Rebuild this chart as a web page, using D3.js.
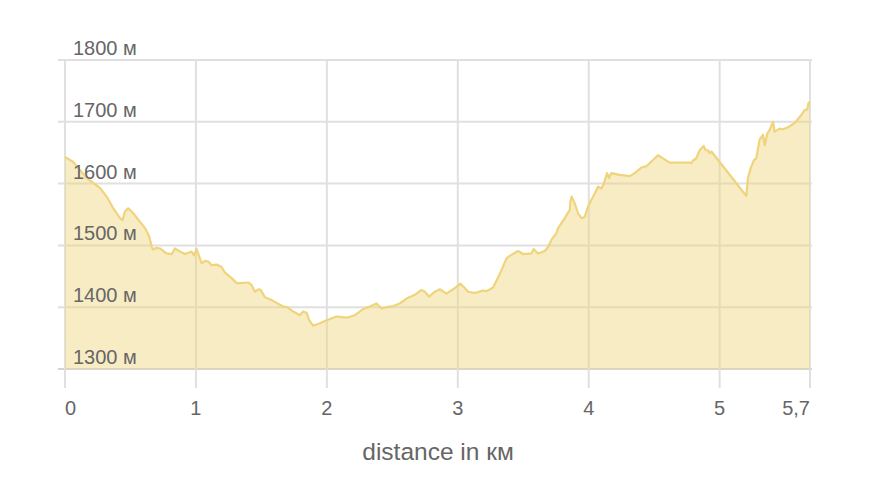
<!DOCTYPE html>
<html>
<head>
<meta charset="utf-8">
<script src="https://cdn.jsdelivr.net/npm/d3@7"></script>
<style>
  html, body { margin: 0; padding: 0; background: #fff; }
  svg { display: block; font-family: "Liberation Sans", Arial, sans-serif; }
</style>
</head>
<body>
<svg id="chart" width="879" height="488"></svg>
<script>
// distance (km)
const distanceKm = [0.000,0.063,0.102,0.166,0.216,0.267,0.318,0.369,0.420,0.440,0.458,0.483,0.521,0.573,0.611,0.644,0.662,0.674,0.695,0.725,0.776,0.815,0.840,0.878,0.916,0.967,0.985,1.005,1.044,1.069,1.094,1.120,1.158,1.196,1.221,1.273,1.311,1.336,1.399,1.425,1.450,1.476,1.494,1.527,1.565,1.616,1.666,1.697,1.743,1.794,1.819,1.845,1.865,1.895,1.947,1.998,2.074,2.150,2.214,2.277,2.328,2.379,2.418,2.456,2.506,2.557,2.608,2.672,2.723,2.748,2.781,2.824,2.863,2.914,2.964,3.021,3.053,3.079,3.130,3.193,3.219,3.270,3.321,3.372,3.397,3.460,3.499,3.563,3.580,3.613,3.664,3.689,3.715,3.753,3.766,3.792,3.817,3.842,3.855,3.860,3.870,3.893,3.918,3.944,3.969,3.995,4.033,4.046,4.071,4.097,4.115,4.140,4.155,4.173,4.237,4.313,4.351,4.402,4.440,4.529,4.618,4.771,4.784,4.796,4.822,4.847,4.878,4.893,4.911,4.924,4.937,5.204,5.216,5.237,5.262,5.280,5.305,5.331,5.344,5.364,5.382,5.407,5.420,5.458,5.483,5.521,5.573,5.624,5.649,5.669,5.679,5.690];
// elevation (m)
const elevationM = [1643,1635,1625,1609,1601,1593,1579,1560,1544,1541,1555,1560,1552,1538,1528,1514,1498,1493,1496,1495,1487,1486,1495,1490,1486,1490,1484,1494,1471,1475,1474,1468,1469,1465,1456,1447,1439,1439,1440,1436,1425,1429,1428,1416,1413,1407,1401,1400,1393,1387,1393,1391,1379,1370,1374,1379,1385,1383,1387,1397,1401,1406,1398,1400,1402,1406,1414,1420,1428,1425,1417,1425,1429,1422,1429,1438,1431,1425,1423,1427,1426,1432,1454,1479,1483,1491,1486,1487,1494,1487,1491,1497,1509,1520,1528,1536,1544,1553,1557,1571,1579,1568,1552,1544,1546,1563,1579,1584,1595,1592,1600,1617,1609,1617,1614,1612,1617,1626,1628,1646,1634,1634,1633,1637,1641,1654,1661,1654,1654,1649,1652,1580,1609,1625,1638,1641,1671,1679,1662,1681,1687,1700,1684,1689,1688,1691,1698,1711,1719,1720,1731,1732];

const xTickValues = [0, 1, 2, 3, 4, 5, 5.69];
const xTickLabels = ["0", "1", "2", "3", "4", "5", "5,7"];
const yTickValues = [1300, 1400, 1500, 1600, 1700, 1800];
const yTickLabels = ["1300 м", "1400 м", "1500 м", "1600 м", "1700 м", "1800 м"];
const xTitle = "distance in км";

(function () {
const data = distanceKm.map((d, i) => ({ x: d, y: elevationM[i] }));

const svg = d3.select("#chart");
const mLeft = 65, mRight = 810, mTop = 60, mBottom = 369;

const x = d3.scaleLinear().domain([0, 5.69]).range([mLeft, mRight]);
const y = d3.scaleLinear().domain([1300, 1800]).range([mBottom, mTop]);

// horizontal gridlines
svg.append("g").selectAll("line").data(yTickValues).join("line")
  .attr("x1", mLeft - 7).attr("x2", mRight + 2)
  .attr("y1", d => y(d)).attr("y2", d => y(d))
  .attr("stroke", d => d === 1300 ? "#d4d4d4" : "#e0e0e0")
  .attr("stroke-width", 2);

// vertical gridlines
svg.append("g").selectAll("line").data(xTickValues).join("line")
  .attr("x1", d => x(d)).attr("x2", d => x(d))
  .attr("y1", mTop).attr("y2", mBottom + 19)
  .attr("stroke", "#e0e0e0")
  .attr("stroke-width", 2);

// area
const area = d3.area().x(d => x(d.x)).y0(y(1300)).y1(d => y(d.y));
svg.append("path").datum(data)
  .attr("d", area)
  .attr("fill", "#f0d47f")
  .attr("fill-opacity", 0.45);

// line
const line = d3.line().x(d => x(d.x)).y(d => y(d.y));
svg.append("path").datum(data)
  .attr("d", line)
  .attr("fill", "none")
  .attr("stroke", "#efd47c")
  .attr("stroke-width", 2.2)
  .attr("stroke-linejoin", "round");

// y labels
svg.append("g").selectAll("text").data(yTickValues).join("text")
  .attr("x", mLeft + 8)
  .attr("y", d => y(d) - 5)
  .attr("fill", "#666")
  .attr("font-size", 20)
  .text((d, i) => yTickLabels[i]);

// x labels
svg.append("g").selectAll("text").data(xTickValues).join("text")
  .attr("x", d => x(d))
  .attr("y", 415)
  .attr("fill", "#666")
  .attr("font-size", 20)
  .attr("text-anchor", (d, i) => i === 0 ? "start" : (i === xTickValues.length - 1 ? "end" : "middle"))
  .text((d, i) => xTickLabels[i]);

// x title
svg.append("text")
  .attr("x", 438)
  .attr("y", 460)
  .attr("text-anchor", "middle")
  .attr("fill", "#666")
  .attr("font-size", 24.5)
  .text(xTitle);
})();
</script>
</body>
</html>
